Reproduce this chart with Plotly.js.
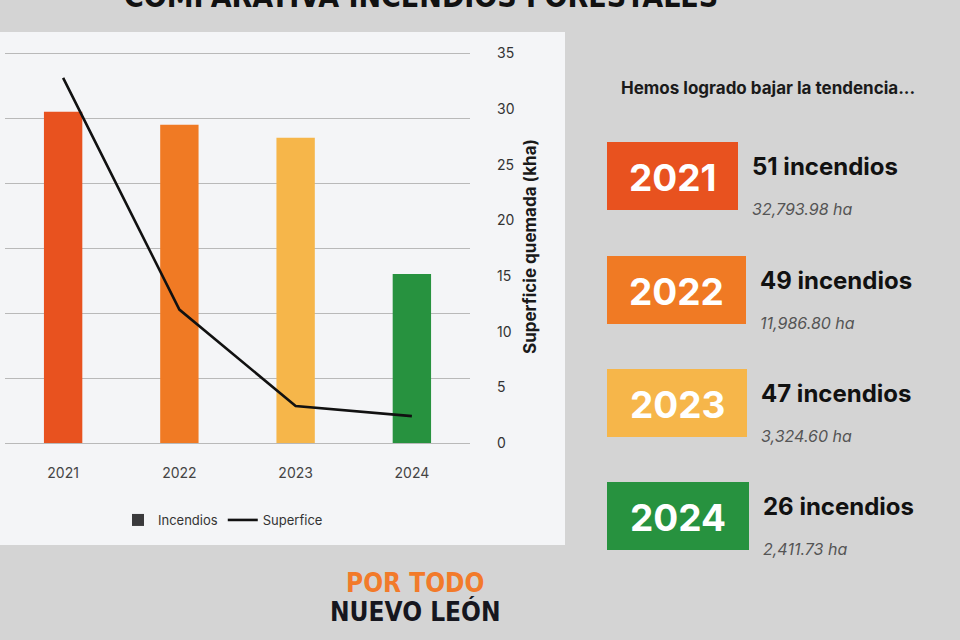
<!DOCTYPE html>
<html>
<head>
<meta charset="utf-8">
<script src="https://cdn.plot.ly/plotly-3.0.1.min.js"></script>
<style>html,body{margin:0;padding:0;background:#d4d4d4;}#chart{width:960px;height:640px;}</style>
</head>
<body>
<div id="chart"></div>
<script>
// ---- data ----
const years = ['2021', '2022', '2023', '2024'];
const incendios = [51, 49, 47, 26];
const superficieKha = [32.79398, 11.9868, 3.3246, 2.41173];
const superficieLabels = ['32,793.98 ha', '11,986.80 ha', '3,324.60 ha', '2,411.73 ha'];
const incendiosLabels = ['51 incendios', '49 incendios', '47 incendios', '26 incendios'];
const yearColors = ['#E8521F', '#F07A24', '#F6B64A', '#27923F'];
const rightTicks = [0, 5, 10, 15, 20, 25, 30, 35];
const leftGrid = [0, 10, 20, 30, 40, 50, 60];

// ---- layout helpers (pixel -> paper) ----
const L = 5, R = 470, T = 50, B = 443;
const px = x => (x - L) / (R - L);
const py = y => (B - y) / (B - T);

const traces = [
  {
    type: 'bar', x: years, y: incendios, name: 'Incendios',
    marker: { color: yearColors }, width: 0.33, showlegend: false
  },
  {
    type: 'bar', x: [null], y: [null], name: 'Incendios',
    marker: { color: '#3a3a3c' }, showlegend: true
  },
  {
    type: 'scatter', mode: 'lines', x: years, y: superficieKha, yaxis: 'y2',
    name: 'Superfice', line: { color: '#111111', width: 2.6 }
  }
];

const shapes = [
  { type: 'rect', xref: 'paper', yref: 'paper', x0: px(0), x1: px(565), y0: py(32), y1: py(545),
    fillcolor: '#f4f5f7', line: { width: 0 }, layer: 'below' }
];
const condensed = 'Liberation Sans Narrow, DejaVu Sans Condensed, Liberation Sans, Arial';
const annotations = [
  { text: '<b>COMPARATIVA INCENDIOS FORESTALES</b>', xref: 'paper', yref: 'paper',
    x: px(421), y: py(-3), showarrow: false, xanchor: 'center', yanchor: 'middle',
    font: { family: condensed, size: 30, color: '#111' } },
  { text: '<b>Hemos logrado bajar la tendencia...</b>', xref: 'paper', yref: 'paper',
    x: px(619), y: py(88), showarrow: false, xanchor: 'left', yanchor: 'middle',
    font: { family: 'Inter, Noto Sans, sans-serif', size: 17, color: '#1a1a1a' } },
  { text: '<b>POR TODO</b>', xref: 'paper', yref: 'paper',
    x: px(415), y: py(583), showarrow: false, xanchor: 'center', yanchor: 'middle',
    font: { family: condensed, size: 26, color: '#F27A2A' } },
  { text: '<b>NUEVO LEÓN</b>', xref: 'paper', yref: 'paper',
    x: px(415), y: py(611), showarrow: false, xanchor: 'center', yanchor: 'middle',
    font: { family: condensed, size: 26, color: '#16161e' } }
];

const boxTop = [142, 256, 369, 482];
const boxRight = [738, 746, 747, 749];
years.forEach((yr, i) => {
  const t = boxTop[i], b = t + 68;
  shapes.push({ type: 'rect', xref: 'paper', yref: 'paper', x0: px(607), x1: px(boxRight[i]),
    y0: py(b), y1: py(t), fillcolor: yearColors[i], line: { width: 0 } });
  annotations.push({ text: '<b>' + yr + '</b>', xref: 'paper', yref: 'paper',
    x: px((607 + boxRight[i]) / 2), y: py(t + 35), showarrow: false, xanchor: 'center', yanchor: 'middle',
    font: { family: 'Inter, Noto Sans, sans-serif', size: 37, color: '#ffffff' } });
  annotations.push({ text: '<b>' + incendiosLabels[i] + '</b>', xref: 'paper', yref: 'paper',
    x: px(boxRight[i] + 12), y: py(t + 24), showarrow: false, xanchor: 'left', yanchor: 'middle',
    font: { family: 'Inter, Noto Sans, sans-serif', size: 24, color: '#111' } });
  annotations.push({ text: '<i>' + superficieLabels[i] + '</i>', xref: 'paper', yref: 'paper',
    x: px(boxRight[i] + 12), y: py(t + 67), showarrow: false, xanchor: 'left', yanchor: 'middle',
    font: { family: 'Inter, Noto Sans, sans-serif', size: 16, color: '#555' } });
});

const layout = {
  width: 960, height: 640,
  paper_bgcolor: '#d4d4d4', plot_bgcolor: 'rgba(0,0,0,0)',
  margin: { l: L, r: 960 - R, t: T, b: 640 - B, pad: 0 },
  font: { family: 'Inter, Noto Sans, sans-serif', color: '#333' },
  showlegend: true,
  legend: { orientation: 'h', x: px(118), y: py(505), xanchor: 'left', yanchor: 'top',
    bgcolor: 'rgba(0,0,0,0)', font: { size: 13, color: '#333' }, traceorder: 'normal' },
  xaxis: { type: 'category', range: [-0.5, 3.5], showgrid: false, zeroline: false, showline: false,
    ticks: '', ticklabelstandoff: 20, tickfont: { size: 14, color: '#444' } },
  yaxis: { range: [0, 60.5], tickvals: leftGrid, showticklabels: false, ticks: '',
    showgrid: true, gridcolor: '#b9b9b9', gridwidth: 1,
    zeroline: true, zerolinecolor: '#b9b9b9', zerolinewidth: 1, showline: false },
  yaxis2: { overlaying: 'y', side: 'right', range: [0, 35.3], tickvals: rightTicks,
    showgrid: false, zeroline: false, showline: false, ticks: '',
    ticklabelstandoff: 26, tickfont: { size: 14, color: '#333' },
    title: { text: '<b>Superficie quemada (kha)</b>', standoff: 10, font: { size: 17, color: '#1a1a1a' } } },
  shapes: shapes,
  annotations: annotations
};

Plotly.newPlot('chart', traces, layout, { displayModeBar: false, staticPlot: true });
</script>
</body>
</html>
